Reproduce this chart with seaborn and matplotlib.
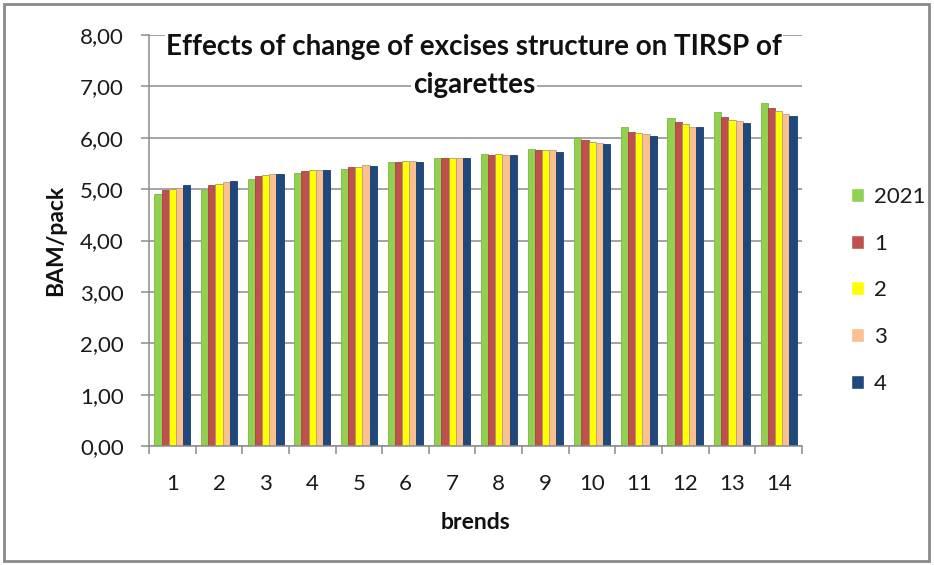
import numpy as np
import pandas as pd
import seaborn as sns
import matplotlib
matplotlib.use("Agg")
import matplotlib.pyplot as plt
from matplotlib.patches import Rectangle
from matplotlib.ticker import FuncFormatter, MultipleLocator, FixedLocator

# Retail price per pack (BAM) for each brand under the 2021 structure and four scenarios
brands = [str(i) for i in range(1, 15)]
scenarios = ["2021", "1", "2", "3", "4"]
v2021 = [4.90, 4.99, 5.20, 5.31, 5.40, 5.52, 5.61, 5.68, 5.78, 6.00, 6.20, 6.39, 6.50, 6.67]
v1 = [4.99, 5.08, 5.25, 5.35, 5.43, 5.52, 5.61, 5.66, 5.76, 5.95, 6.12, 6.30, 6.40, 6.57]
v2 = [5.01, 5.10, 5.27, 5.37, 5.44, 5.54, 5.61, 5.68, 5.76, 5.91, 6.09, 6.26, 6.34, 6.52]
v3 = [5.03, 5.14, 5.29, 5.37, 5.46, 5.54, 5.61, 5.66, 5.76, 5.90, 6.07, 6.21, 6.32, 6.47]
v4 = [5.08, 5.15, 5.30, 5.37, 5.45, 5.52, 5.61, 5.66, 5.73, 5.88, 6.03, 6.20, 6.28, 6.43]
colors = ["#92D050", "#C0504D", "#FFFF00", "#FAC090", "#1F497D"]
edges = ["#7fb843", "#a8433f", "#a0a060", "#c0a080", "#1a3d6a"]

series = [v2021, v1, v2, v3, v4]
df = pd.DataFrame({
    "brand": np.repeat([brands], len(scenarios), axis=0).ravel(),
    "scenario": np.repeat(scenarios, len(brands)),
    "value": np.concatenate(series),
})

sns.set_theme(style="white")
plt.rcParams["font.family"] = ["Lato", "DejaVu Sans"]

fig = plt.figure(figsize=(9.34, 5.65), dpi=100)
ax = fig.add_axes([149 / 934, 1 - 446 / 565, (802 - 149) / 934, (446 - 35) / 565])

sns.barplot(data=df, x="brand", y="value", hue="scenario", order=brands,
            hue_order=scenarios, palette=colors, width=0.77, ax=ax,
            saturation=1, errorbar=None, legend=True)

for i, cont in enumerate(ax.containers):
    for p in cont:
        p.set_edgecolor(edges[i])
        p.set_linewidth(0.6)

grid_c = "#8c8c8c"
txt_c = "#1a1a1a"
ax.set_ylim(0, 8)
ax.set_xlim(-0.5, 13.5)
ax.yaxis.set_major_locator(MultipleLocator(1))
ax.yaxis.set_major_formatter(FuncFormatter(lambda v, _: f"{v:.2f}".replace(".", ",")))
ax.grid(axis="y", color=grid_c, linewidth=1.1)
ax.set_axisbelow(True)
for s in ["top", "right"]:
    ax.spines[s].set_visible(False)
for s in ["left", "bottom"]:
    ax.spines[s].set_color(grid_c)
    ax.spines[s].set_linewidth(1.1)

ax.xaxis.set_minor_locator(FixedLocator(np.arange(-0.5, 14, 1)))
ax.tick_params(axis="x", which="major", length=0, pad=20, labelsize=16, colors=txt_c)
ax.tick_params(axis="x", which="minor", length=6, width=1.1, color=grid_c, direction="out", bottom=True)
ax.tick_params(axis="y", which="major", length=6, width=1.1, color=grid_c, direction="out",
               left=True, pad=12, labelsize=16, labelcolor=txt_c)

ax.set_xlabel("brends", fontsize=16.5, fontweight="bold", labelpad=13, color="#111111")
ax.set_ylabel("BAM/pack", fontsize=16.5, fontweight="bold", labelpad=10, color="#111111")

# Chart title drawn over the plot area with a white backing behind each line
fig.text(474 / 934, 1 - 47 / 565, "Effects of change of excises structure on TIRSP of",
         ha="center", va="center", fontsize=20, fontweight="bold", color="#111111",
         bbox=dict(facecolor="white", edgecolor="none", pad=1))
fig.text(474 / 934, 1 - 85 / 565, "cigarettes",
         ha="center", va="center", fontsize=20, fontweight="bold", color="#111111",
         bbox=dict(facecolor="white", edgecolor="none", pad=1))

handles, labels = ax.get_legend_handles_labels()
ax.legend(handles, labels, loc="upper left", bbox_to_anchor=(842 / 934, 1 - 178 / 565),
          bbox_transform=fig.transFigure, frameon=False, fontsize=16,
          handlelength=0.6, handleheight=0.6, handletextpad=0.45, labelspacing=1.2,
          borderaxespad=0, labelcolor=txt_c)

fig.patches.append(Rectangle((4 / 934, 4 / 565), 925 / 934, 557 / 565, transform=fig.transFigure,
                             fill=False, edgecolor="#8a8a8a", linewidth=2))

fig.savefig("out.png", dpi=100)
